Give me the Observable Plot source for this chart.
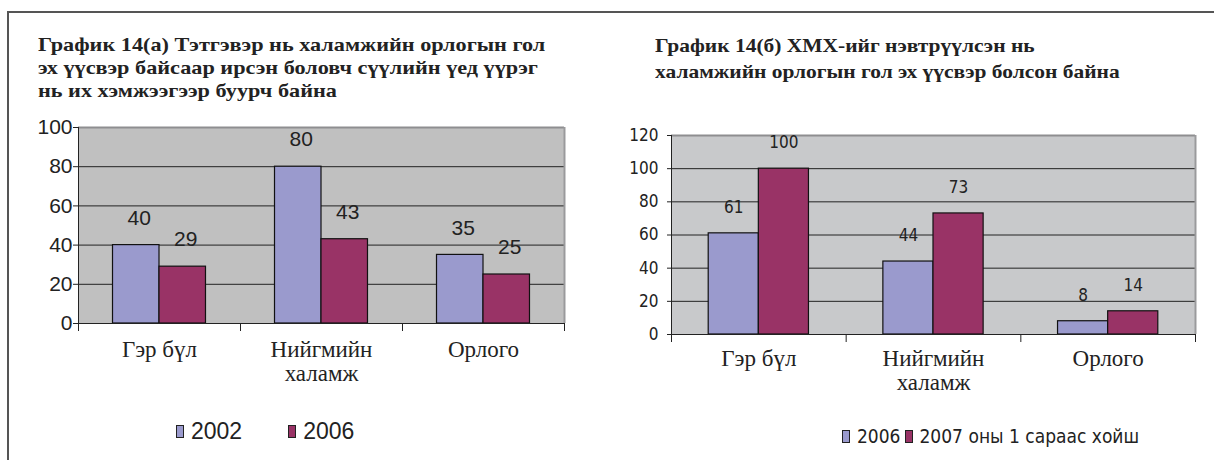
<!DOCTYPE html>
<html><head><meta charset="utf-8">
<script src="https://cdn.jsdelivr.net/npm/d3@7"></script>
<script src="https://cdn.jsdelivr.net/npm/@observablehq/plot@0.6"></script>
<style>
body{margin:0;background:#fff;}
#wrap{position:relative;width:1214px;height:460px;overflow:hidden;background:#fff;}
.frameTop{position:absolute;left:7px;top:11px;width:1207px;height:0;border-top:2px solid #555;}
.frameLeft{position:absolute;left:7px;top:11px;width:0;height:460px;border-left:2px solid #555;}
.title{position:absolute;font-family:"Liberation Serif","Times New Roman",serif;font-weight:bold;color:#222;white-space:nowrap;transform-origin:0 0;}
.chart{position:absolute;}
.legend{position:absolute;white-space:nowrap;color:#222;display:flex;align-items:center;}
.sw{display:inline-block;border:1px solid #222;box-sizing:border-box;}
</style></head>
<body><div id="wrap">
<div class="frameTop"></div><div class="frameLeft"></div>
<div class="title" id="t1" style="left:38px;top:33px;font-size:19.5px;line-height:23px;transform:scaleX(1.14);"></div>
<div class="title" id="t2" style="left:655px;top:33px;font-size:19px;line-height:26px;transform:scaleX(1.13);"></div>
<div class="chart" id="c1" style="left:0;top:100px;"></div>
<div class="chart" id="c2" style="left:600px;top:100px;"></div>
<div class="legend" id="l1" style="left:176px;top:418px;font-family:'Liberation Sans',Arial,sans-serif;font-size:23px;"></div>
<div class="legend" id="l2" style="left:842px;top:425px;font-family:'Liberation Sans Narrow','Arial Narrow','DejaVu Sans Condensed',sans-serif;font-size:19px;"></div>
</div>
<script>
const categories = ["Гэр бүл", "Нийгмийн\nхаламж", "Орлого"];
const leftTitle = ["График 14(а) Тэтгэвэр нь халамжийн орлогын гол", "эх үүсвэр байсаар ирсэн боловч сүүлийн үед үүрэг", "нь их хэмжээгээр буурч байна"];
const rightTitle = ["График 14(б) ХМХ-ийг нэвтрүүлсэн нь", "халамжийн орлогын гол эх үүсвэр болсон байна"];
const leftSeries = ["2002", "2006"];
const left2002 = [40, 80, 35];
const left2006 = [29, 43, 25];
const leftTicks = [0, 20, 40, 60, 80, 100];
const rightSeries = ["2006", "2007 оны 1 сараас хойш"];
const right2006 = [61, 44, 8];
const right2007 = [100, 73, 14];
const rightTicks = [0, 20, 40, 60, 80, 100, 120];
const colors = ["#9a9acd", "#993366"];

document.getElementById("t1").innerHTML = leftTitle.join("<br>");
document.getElementById("t2").innerHTML = rightTitle.join("<br>");

function chart(o) {
  const rows = [];
  categories.forEach((c, i) => {
    rows.push({cat: c, i, s: 0, value: o.s1[i]});
    rows.push({cat: c, i, s: 1, value: o.s2[i]});
  });
  const W = 0.287;
  const ymax = o.ticks[o.ticks.length - 1];
  const numStyle = {fontFamily: o.numFont, fontSize: o.numSize, fill: "#222"};
  return Plot.plot({
    width: o.width, height: o.height,
    marginLeft: o.ml, marginRight: o.mr, marginTop: o.mt, marginBottom: o.mb,
    style: {background: "transparent", color: "#222", fontFamily: o.numFont, fontSize: o.numSize + "px", overflow: "visible"},
    x: {type: "linear", domain: [0, categories.length], axis: null},
    y: {domain: [0, ymax], axis: null},
    color: {type: "ordinal", domain: [0, 1], range: colors},
    marks: [
      Plot.frame({fill: o.bg, stroke: null}),
      Plot.gridY(o.ticks.filter(t => t > 0 && t < ymax), {stroke: "#222", strokeOpacity: 1, strokeWidth: 1}),
      Plot.ruleY([ymax], {stroke: "#8e8e90", strokeWidth: 2}),
      Plot.ruleX([categories.length], {stroke: "#9a9a9c", strokeWidth: 2}),
      Plot.axisY(o.ticks, {tickSize: o.tickSize, tickPadding: o.tickPad, stroke: "#222", label: null, ...numStyle}),
      Plot.axisX(d3.range(categories.length + 1), {tickSize: 8, tickFormat: () => "", stroke: "#222", label: null}),
      Plot.ruleX([0], {stroke: "#222", strokeWidth: 1}),
      Plot.rectY(rows, {
        x1: d => d.s === 0 ? d.i + 0.5 - W : d.i + 0.5,
        x2: d => d.s === 0 ? d.i + 0.5 : d.i + 0.5 + W,
        y: "value", fill: "s", stroke: "#111", strokeWidth: 1.2
      }),
      Plot.ruleY([0], {stroke: "#222", strokeWidth: 1}),
      Plot.text(rows, {
        x: d => d.s === 0 ? d.i + 0.5 - W / 2 : d.i + 0.5 + W / 2,
        y: "value", text: d => String(d.value), dy: -o.labelGap, dx: o.labelDx,
        ...numStyle
      }),
      Plot.text(categories, {
        x: (d, i) => i + 0.5, y: 0, text: d => d, lineAnchor: "top", dy: o.catDy,
        lineHeight: o.catLH, fontFamily: "Liberation Serif, Times New Roman, serif",
        fontSize: o.catSize, fill: "#222"
      })
    ]
  });
}

document.getElementById("c1").appendChild(chart({
  s1: left2002, s2: left2006, ticks: leftTicks,
  width: 600, height: 300, ml: 78, mr: 36, mt: 27, mb: 77,
  bg: "#c0c0c0", numFont: "Liberation Sans, Arial, sans-serif", numSize: 21,
  tickSize: 5, tickPad: 1,
  labelGap: 27, labelDx: 3, catSize: 23, catDy: 17, catLH: 1.03
}));
document.getElementById("c2").appendChild(chart({
  s1: right2006, s2: right2007, ticks: rightTicks,
  width: 614, height: 300, ml: 71, mr: 19, mt: 35, mb: 66,
  bg: "#c8c9cb", numFont: "Liberation Sans Narrow, Arial Narrow, DejaVu Sans Condensed, sans-serif", numSize: 17,
  tickSize: 4, tickPad: 9,
  labelGap: 26, labelDx: 0, catSize: 23, catDy: 15, catLH: 1.03
}));

function legend(id, names, gap, sw) {
  const el = document.getElementById(id);
  names.forEach((n, k) => {
    const s = document.createElement("span");
    s.className = "sw";
    s.style.width = sw[0] + "px"; s.style.height = sw[1] + "px";
    s.style.background = colors[k];
    s.style.marginLeft = k ? gap + "px" : "0";
    s.style.marginRight = "7px";
    const t = document.createElement("span");
    t.textContent = n;
    el.appendChild(s); el.appendChild(t);
  });
}
legend("l1", leftSeries, 46, [8, 13]);
legend("l2", rightSeries, 4, [8, 13]);
</script>
</body></html>
